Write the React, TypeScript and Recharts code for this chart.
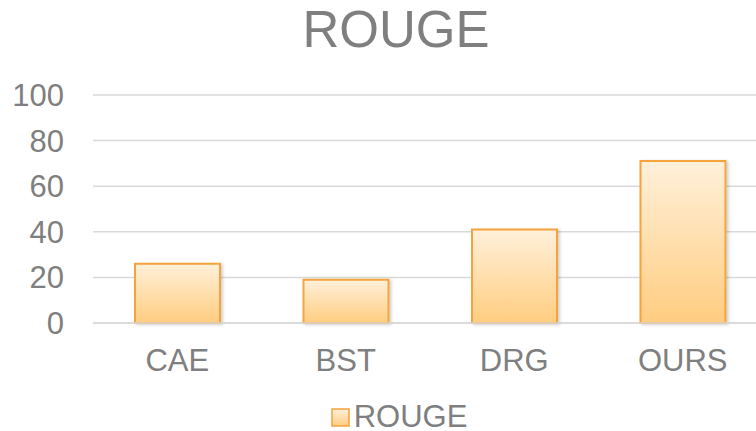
import { BarChart, Bar, XAxis, YAxis, CartesianGrid, Legend } from "recharts"

const categories = ["CAE", "BST", "DRG", "OURS"]
const rouge = [26, 19, 41, 71]
const yTicks = [0, 20, 40, 60, 80, 100]

const data = categories.map((name, i) => ({ name, ROUGE: rouge[i] }))

const FONT = "'Liberation Sans', Arial, sans-serif"
const GREY = "#7f7f7f"

function LegendContent() {
  return (
    <div
      style={{
        display: "flex",
        justifyContent: "center",
        alignItems: "center",
        fontFamily: FONT,
        fontSize: 31,
        lineHeight: "28px",
        color: GREY,
        paddingTop: 12,
        paddingLeft: 31,
      }}
    >
      <svg width={19} height={19} style={{ marginRight: 4 }}>
        <rect x={1} y={1} width={17} height={17} fill="url(#rougeFill)" stroke="#f5a33c" strokeWidth={1.5} />
      </svg>
      <span>ROUGE</span>
    </div>
  )
}

export default function App() {
  return (
    <div style={{ position: "absolute", left: 0, top: 0, width: 756, height: 431, background: "#fff", overflow: "hidden" }}>
      <div
        style={{
          position: "absolute",
          top: 0,
          left: 0,
          width: 792,
          textAlign: "center",
          fontFamily: FONT,
          fontSize: 51,
          color: GREY,
        }}
      >
        ROUGE
      </div>
      <BarChart width={769} height={431} data={data} margin={{ top: 95, right: 2, left: 0, bottom: 0 }} barSize={85}>
        <defs>
          <linearGradient id="rougeFill" x1="0" y1="0" x2="0" y2="1">
            <stop offset="0%" stopColor="#fff0da" />
            <stop offset="100%" stopColor="#ffcd80" />
          </linearGradient>
          <filter id="barShadow" x="-10%" y="-10%" width="130%" height="120%">
            <feDropShadow dx={2} dy={1} stdDeviation={1.5} floodColor="#000" floodOpacity={0.18} />
          </filter>
        </defs>
        <CartesianGrid vertical={false} stroke="#d9d9d9" strokeWidth={1.5} />
        <XAxis
          dataKey="name"
          axisLine={{ stroke: "#d9d9d9", strokeWidth: 1.5 }}
          tickLine={false}
          tick={{ fontSize: 31, fill: GREY, fontFamily: FONT }}
          tickMargin={20}
          height={68}
        />
        <YAxis
          domain={[0, 100]}
          ticks={yTicks}
          width={93}
          axisLine={false}
          tickLine={false}
          tick={{ fontSize: 31, fill: GREY, fontFamily: FONT }}
          tickMargin={23}
        />
        <Legend verticalAlign="bottom" height={40} content={LegendContent} />
        <Bar
          dataKey="ROUGE"
          fill="url(#rougeFill)"
          stroke="#f5a33c"
          strokeWidth={2}
          filter="url(#barShadow)"
          isAnimationActive={false}
        />
      </BarChart>
    </div>
  )
}
